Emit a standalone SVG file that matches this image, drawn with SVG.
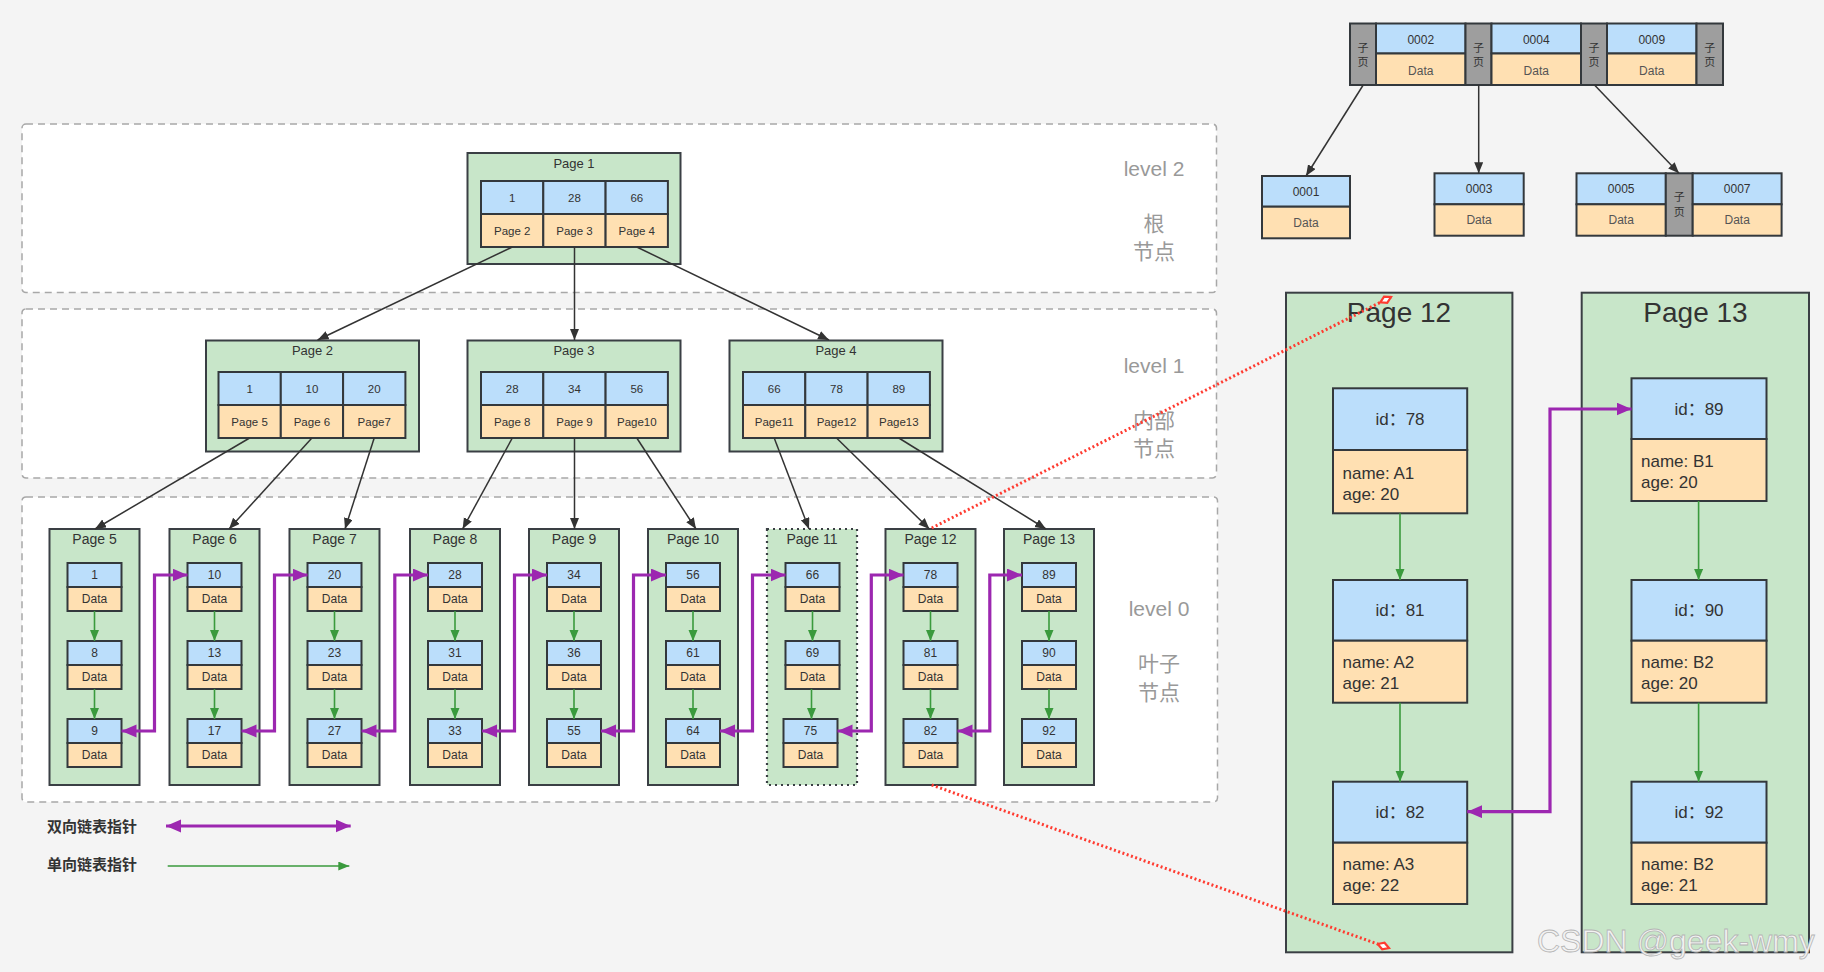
<svg xmlns="http://www.w3.org/2000/svg" width="1824" height="972" viewBox="0 0 1824 972">
<style>
text{font-family:"Liberation Sans","Noto Sans CJK SC",sans-serif;fill:#333;text-anchor:middle}
.lvl{fill:#fff;stroke:#a8a8a8;stroke-width:1.5;stroke-dasharray:7 5}
.pg{fill:#c8e6c9;stroke:#3a3f44;stroke-width:2}
.pgdot{fill:#c8e6c9;stroke:#3a3f44;stroke-width:2.2;stroke-dasharray:2 4}
.k{fill:#bbdefb;stroke:#33383c;stroke-width:2}
.d{fill:#ffe0b2;stroke:#33383c;stroke-width:2}
.g{fill:#9e9e9e;stroke:#33383c;stroke-width:2}
.pt{font-size:14px}
.ct{font-size:12px}
.nt{font-size:13px}
.nc{font-size:11.5px}
.tr{font-size:12px}
.trd{font-size:12px;fill:#555}
.zy{font-size:11px;fill:#333}
.lv{font-size:21px;fill:#999}
.lc{font-size:21px;fill:#999}
.bt{font-size:28px}
.rid{font-size:17px}
.rt{font-size:17px;text-anchor:start}
.lg{font-size:15px;font-weight:bold;text-anchor:start}
.blk{fill:none;stroke:#333;stroke-width:1.5}
.grn{fill:none;stroke:#3a9a3d;stroke-width:1.6}
.pur{fill:none;stroke:#9c27b0;stroke-width:3.2}
.red{fill:none;stroke:#ff3b30;stroke-width:3;stroke-dasharray:2 2.5}
</style>
<defs>
<marker id="ab" markerUnits="userSpaceOnUse" markerWidth="12" markerHeight="10" refX="11" refY="4.5" orient="auto"><path d="M0,0 L11,4.5 L0,9 z" fill="#333"/></marker>
<marker id="ag" markerUnits="userSpaceOnUse" markerWidth="12" markerHeight="10" refX="11" refY="4.5" orient="auto"><path d="M0,0 L11,4.5 L0,9 z" fill="#3a9a3d"/></marker>
<marker id="ap" markerUnits="userSpaceOnUse" markerWidth="16" markerHeight="14" refX="15" refY="6.5" orient="auto-start-reverse"><path d="M0,0 L15,6.5 L0,13 z" fill="#9c27b0"/></marker>
<marker id="ad" markerUnits="userSpaceOnUse" markerWidth="16" markerHeight="12" refX="13" refY="5" orient="auto"><path d="M1,5 L7,1.5 L13,5 L7,8.5 z" fill="#fff" stroke="#ff3b30" stroke-width="2.2"/></marker>
</defs>
<rect x="0" y="0" width="1824" height="972" fill="#f4f4f4"/>

<g id="levels">
<rect class="lvl" x="22" y="124" width="1194.5" height="168.5" rx="4"/>
<rect class="lvl" x="22" y="309" width="1194.5" height="169" rx="4"/>
<rect class="lvl" x="22" y="497" width="1195.5" height="305" rx="4"/>
<text class="lv" x="1154" y="175.5">level 2</text>
<text class="lc" x="1154" y="230.5">根</text>
<text class="lc" x="1154" y="259">节点</text>
<text class="lv" x="1154" y="372.5">level 1</text>
<text class="lc" x="1154" y="427.5">内部</text>
<text class="lc" x="1154" y="455.5">节点</text>
<text class="lv" x="1159" y="615.5">level 0</text>
<text class="lc" x="1159" y="670.5">叶子</text>
<text class="lc" x="1159" y="699.5">节点</text>
</g>

<g id="page1">
<rect class="pg" x="467.5" y="153" width="213" height="111"/>
<text class="nt" x="574" y="167.5">Page 1</text>
<rect class="k" x="481" y="181" width="62.3" height="33"/><rect class="k" x="543.3" y="181" width="62.3" height="33"/><rect class="k" x="605.6" y="181" width="62.3" height="33"/>
<rect class="d" x="481" y="214" width="62.3" height="33"/><rect class="d" x="543.3" y="214" width="62.3" height="33"/><rect class="d" x="605.6" y="214" width="62.3" height="33"/>
<text class="nc" x="512.2" y="201.5">1</text><text class="nc" x="574.5" y="201.5">28</text><text class="nc" x="636.8" y="201.5">66</text>
<text class="nc" x="512.2" y="234.5">Page 2</text><text class="nc" x="574.5" y="234.5">Page 3</text><text class="nc" x="636.8" y="234.5">Page 4</text>
</g>

<g id="page2">
<rect class="pg" x="206" y="340.5" width="213" height="111"/>
<text class="nt" x="312.5" y="355">Page 2</text>
<rect class="k" x="218.5" y="372" width="62.3" height="33"/><rect class="k" x="280.8" y="372" width="62.3" height="33"/><rect class="k" x="343.1" y="372" width="62.3" height="33"/>
<rect class="d" x="218.5" y="405" width="62.3" height="33"/><rect class="d" x="280.8" y="405" width="62.3" height="33"/><rect class="d" x="343.1" y="405" width="62.3" height="33"/>
<text class="nc" x="249.6" y="392.5">1</text><text class="nc" x="311.9" y="392.5">10</text><text class="nc" x="374.2" y="392.5">20</text>
<text class="nc" x="249.6" y="425.5">Page 5</text><text class="nc" x="311.9" y="425.5">Page 6</text><text class="nc" x="374.2" y="425.5">Page7</text>
</g>

<g id="page3">
<rect class="pg" x="467.5" y="340.5" width="213" height="111"/>
<text class="nt" x="574" y="355">Page 3</text>
<rect class="k" x="481" y="372" width="62.3" height="33"/><rect class="k" x="543.3" y="372" width="62.3" height="33"/><rect class="k" x="605.6" y="372" width="62.3" height="33"/>
<rect class="d" x="481" y="405" width="62.3" height="33"/><rect class="d" x="543.3" y="405" width="62.3" height="33"/><rect class="d" x="605.6" y="405" width="62.3" height="33"/>
<text class="nc" x="512.2" y="392.5">28</text><text class="nc" x="574.5" y="392.5">34</text><text class="nc" x="636.8" y="392.5">56</text>
<text class="nc" x="512.2" y="425.5">Page 8</text><text class="nc" x="574.5" y="425.5">Page 9</text><text class="nc" x="636.8" y="425.5">Page10</text>
</g>

<g id="page4">
<rect class="pg" x="729.5" y="340.5" width="213" height="111"/>
<text class="nt" x="836" y="355">Page 4</text>
<rect class="k" x="743" y="372" width="62.3" height="33"/><rect class="k" x="805.3" y="372" width="62.3" height="33"/><rect class="k" x="867.6" y="372" width="62.3" height="33"/>
<rect class="d" x="743" y="405" width="62.3" height="33"/><rect class="d" x="805.3" y="405" width="62.3" height="33"/><rect class="d" x="867.6" y="405" width="62.3" height="33"/>
<text class="nc" x="774.2" y="392.5">66</text><text class="nc" x="836.5" y="392.5">78</text><text class="nc" x="898.8" y="392.5">89</text>
<text class="nc" x="774.2" y="425.5">Page11</text><text class="nc" x="836.5" y="425.5">Page12</text><text class="nc" x="898.8" y="425.5">Page13</text>
</g>

<g id="page5">
<rect class="pg" x="49.5" y="529" width="90" height="256"/>
<text class="pt" x="94.5" y="544">Page 5</text>
<rect class="k" x="67.5" y="563" width="54" height="24"/><rect class="d" x="67.5" y="587" width="54" height="24"/>
<rect class="k" x="67.5" y="641" width="54" height="24"/><rect class="d" x="67.5" y="665" width="54" height="24"/>
<rect class="k" x="67.5" y="719" width="54" height="24"/><rect class="d" x="67.5" y="743" width="54" height="24"/>
<text class="ct" x="94.5" y="579.3">1</text><text class="ct" x="94.5" y="603.3">Data</text>
<text class="ct" x="94.5" y="657.3">8</text><text class="ct" x="94.5" y="681.3">Data</text>
<text class="ct" x="94.5" y="735.3">9</text><text class="ct" x="94.5" y="759.3">Data</text>
</g>

<g id="page6">
<rect class="pg" x="169.5" y="529" width="90" height="256"/>
<text class="pt" x="214.5" y="544">Page 6</text>
<rect class="k" x="187.5" y="563" width="54" height="24"/><rect class="d" x="187.5" y="587" width="54" height="24"/>
<rect class="k" x="187.5" y="641" width="54" height="24"/><rect class="d" x="187.5" y="665" width="54" height="24"/>
<rect class="k" x="187.5" y="719" width="54" height="24"/><rect class="d" x="187.5" y="743" width="54" height="24"/>
<text class="ct" x="214.5" y="579.3">10</text><text class="ct" x="214.5" y="603.3">Data</text>
<text class="ct" x="214.5" y="657.3">13</text><text class="ct" x="214.5" y="681.3">Data</text>
<text class="ct" x="214.5" y="735.3">17</text><text class="ct" x="214.5" y="759.3">Data</text>
</g>

<g id="page7">
<rect class="pg" x="289.5" y="529" width="90" height="256"/>
<text class="pt" x="334.5" y="544">Page 7</text>
<rect class="k" x="307.5" y="563" width="54" height="24"/><rect class="d" x="307.5" y="587" width="54" height="24"/>
<rect class="k" x="307.5" y="641" width="54" height="24"/><rect class="d" x="307.5" y="665" width="54" height="24"/>
<rect class="k" x="307.5" y="719" width="54" height="24"/><rect class="d" x="307.5" y="743" width="54" height="24"/>
<text class="ct" x="334.5" y="579.3">20</text><text class="ct" x="334.5" y="603.3">Data</text>
<text class="ct" x="334.5" y="657.3">23</text><text class="ct" x="334.5" y="681.3">Data</text>
<text class="ct" x="334.5" y="735.3">27</text><text class="ct" x="334.5" y="759.3">Data</text>
</g>

<g id="page8">
<rect class="pg" x="410" y="529" width="90" height="256"/>
<text class="pt" x="455" y="544">Page 8</text>
<rect class="k" x="428" y="563" width="54" height="24"/><rect class="d" x="428" y="587" width="54" height="24"/>
<rect class="k" x="428" y="641" width="54" height="24"/><rect class="d" x="428" y="665" width="54" height="24"/>
<rect class="k" x="428" y="719" width="54" height="24"/><rect class="d" x="428" y="743" width="54" height="24"/>
<text class="ct" x="455" y="579.3">28</text><text class="ct" x="455" y="603.3">Data</text>
<text class="ct" x="455" y="657.3">31</text><text class="ct" x="455" y="681.3">Data</text>
<text class="ct" x="455" y="735.3">33</text><text class="ct" x="455" y="759.3">Data</text>
</g>

<g id="page9">
<rect class="pg" x="529" y="529" width="90" height="256"/>
<text class="pt" x="574" y="544">Page 9</text>
<rect class="k" x="547" y="563" width="54" height="24"/><rect class="d" x="547" y="587" width="54" height="24"/>
<rect class="k" x="547" y="641" width="54" height="24"/><rect class="d" x="547" y="665" width="54" height="24"/>
<rect class="k" x="547" y="719" width="54" height="24"/><rect class="d" x="547" y="743" width="54" height="24"/>
<text class="ct" x="574" y="579.3">34</text><text class="ct" x="574" y="603.3">Data</text>
<text class="ct" x="574" y="657.3">36</text><text class="ct" x="574" y="681.3">Data</text>
<text class="ct" x="574" y="735.3">55</text><text class="ct" x="574" y="759.3">Data</text>
</g>

<g id="page10">
<rect class="pg" x="648" y="529" width="90" height="256"/>
<text class="pt" x="693" y="544">Page 10</text>
<rect class="k" x="666" y="563" width="54" height="24"/><rect class="d" x="666" y="587" width="54" height="24"/>
<rect class="k" x="666" y="641" width="54" height="24"/><rect class="d" x="666" y="665" width="54" height="24"/>
<rect class="k" x="666" y="719" width="54" height="24"/><rect class="d" x="666" y="743" width="54" height="24"/>
<text class="ct" x="693" y="579.3">56</text><text class="ct" x="693" y="603.3">Data</text>
<text class="ct" x="693" y="657.3">61</text><text class="ct" x="693" y="681.3">Data</text>
<text class="ct" x="693" y="735.3">64</text><text class="ct" x="693" y="759.3">Data</text>
</g>

<g id="page11">
<rect class="pgdot" x="767" y="529" width="90" height="256"/>
<text class="pt" x="812" y="544">Page 11</text>
<rect class="k" x="785.5" y="563" width="54" height="24"/><rect class="d" x="785.5" y="587" width="54" height="24"/>
<rect class="k" x="785.5" y="641" width="54" height="24"/><rect class="d" x="785.5" y="665" width="54" height="24"/>
<rect class="k" x="783.5" y="719" width="54" height="24"/><rect class="d" x="783.5" y="743" width="54" height="24"/>
<text class="ct" x="812.5" y="579.3">66</text><text class="ct" x="812.5" y="603.3">Data</text>
<text class="ct" x="812.5" y="657.3">69</text><text class="ct" x="812.5" y="681.3">Data</text>
<text class="ct" x="810.5" y="735.3">75</text><text class="ct" x="810.5" y="759.3">Data</text>
</g>

<g id="page12">
<rect class="pg" x="885.5" y="529" width="90" height="256"/>
<text class="pt" x="930.5" y="544">Page 12</text>
<rect class="k" x="903.5" y="563" width="54" height="24"/><rect class="d" x="903.5" y="587" width="54" height="24"/>
<rect class="k" x="903.5" y="641" width="54" height="24"/><rect class="d" x="903.5" y="665" width="54" height="24"/>
<rect class="k" x="903.5" y="719" width="54" height="24"/><rect class="d" x="903.5" y="743" width="54" height="24"/>
<text class="ct" x="930.5" y="579.3">78</text><text class="ct" x="930.5" y="603.3">Data</text>
<text class="ct" x="930.5" y="657.3">81</text><text class="ct" x="930.5" y="681.3">Data</text>
<text class="ct" x="930.5" y="735.3">82</text><text class="ct" x="930.5" y="759.3">Data</text>
</g>

<g id="page13">
<rect class="pg" x="1004" y="529" width="90" height="256"/>
<text class="pt" x="1049" y="544">Page 13</text>
<rect class="k" x="1022" y="563" width="54" height="24"/><rect class="d" x="1022" y="587" width="54" height="24"/>
<rect class="k" x="1022" y="641" width="54" height="24"/><rect class="d" x="1022" y="665" width="54" height="24"/>
<rect class="k" x="1022" y="719" width="54" height="24"/><rect class="d" x="1022" y="743" width="54" height="24"/>
<text class="ct" x="1049" y="579.3">89</text><text class="ct" x="1049" y="603.3">Data</text>
<text class="ct" x="1049" y="657.3">90</text><text class="ct" x="1049" y="681.3">Data</text>
<text class="ct" x="1049" y="735.3">92</text><text class="ct" x="1049" y="759.3">Data</text>
</g>

<g id="btree-root">
<rect class="g" x="1350" y="23.5" width="26" height="61.5"/>
<rect class="k" x="1376" y="23.5" width="89.5" height="30"/><rect class="d" x="1376" y="53.5" width="89.5" height="31.5"/>
<rect class="g" x="1465.5" y="23.5" width="26" height="61.5"/>
<rect class="k" x="1491.5" y="23.5" width="89.5" height="30"/><rect class="d" x="1491.5" y="53.5" width="89.5" height="31.5"/>
<rect class="g" x="1581" y="23.5" width="26" height="61.5"/>
<rect class="k" x="1607" y="23.5" width="89.5" height="30"/><rect class="d" x="1607" y="53.5" width="89.5" height="31.5"/>
<rect class="g" x="1696.5" y="23.5" width="26.5" height="61.5"/>
<text class="tr" x="1420.8" y="43.5">0002</text><text class="trd" x="1420.8" y="74.5">Data</text>
<text class="tr" x="1536.3" y="43.5">0004</text><text class="trd" x="1536.3" y="74.5">Data</text>
<text class="tr" x="1651.8" y="43.5">0009</text><text class="trd" x="1651.8" y="74.5">Data</text>
<text class="zy" x="1363" y="52">子</text><text class="zy" x="1363" y="65.5">页</text>
<text class="zy" x="1478.5" y="52">子</text><text class="zy" x="1478.5" y="65.5">页</text>
<text class="zy" x="1594" y="52">子</text><text class="zy" x="1594" y="65.5">页</text>
<text class="zy" x="1709.7" y="52">子</text><text class="zy" x="1709.7" y="65.5">页</text>
</g>

<g id="btree-0001">
<rect class="k" x="1262" y="176" width="88" height="30.7"/><rect class="d" x="1262" y="206.7" width="88" height="31.6"/>
<text class="tr" x="1306" y="195.5">0001</text><text class="trd" x="1306" y="226.7">Data</text>
</g>
<g id="btree-0003">
<rect class="k" x="1434.5" y="173.3" width="89.2" height="31"/><rect class="d" x="1434.5" y="204.3" width="89.2" height="31.4"/>
<text class="tr" x="1479.1" y="193">0003</text><text class="trd" x="1479.1" y="224.2">Data</text>
</g>
<g id="btree-0005-0007">
<rect class="k" x="1576.5" y="173.3" width="89.3" height="31"/><rect class="d" x="1576.5" y="204.3" width="89.3" height="31.4"/>
<rect class="g" x="1665.8" y="173.3" width="26.9" height="62.4"/>
<rect class="k" x="1692.7" y="173.3" width="88.9" height="31"/><rect class="d" x="1692.7" y="204.3" width="88.9" height="31.4"/>
<text class="tr" x="1621.2" y="193">0005</text><text class="trd" x="1621.2" y="224.2">Data</text>
<text class="tr" x="1737.2" y="193">0007</text><text class="trd" x="1737.2" y="224.2">Data</text>
<text class="zy" x="1679.3" y="200.5">子</text><text class="zy" x="1679.3" y="215.5">页</text>
</g>

<g id="detail-page12">
<rect class="pg" x="1286" y="292.7" width="226.4" height="659.6"/>
<text class="bt" x="1399" y="321.5">Page 12</text>
<rect class="k" x="1333" y="388.3" width="134.2" height="61.7"/><rect class="d" x="1333" y="450" width="134.2" height="63.3"/>
<text class="rid" x="1400" y="425">id：78</text>
<text class="rt" x="1342.5" y="478.7">name: A1</text><text class="rt" x="1342.5" y="499.5">age: 20</text>
<rect class="k" x="1333" y="580" width="134.2" height="60.7"/><rect class="d" x="1333" y="640.7" width="134.2" height="62"/>
<text class="rid" x="1400" y="616.3">id：81</text>
<text class="rt" x="1342.5" y="668.3">name: A2</text><text class="rt" x="1342.5" y="689.3">age: 21</text>
<rect class="k" x="1333" y="781.7" width="134.2" height="61"/><rect class="d" x="1333" y="842.7" width="134.2" height="61.3"/>
<text class="rid" x="1400" y="818">id：82</text>
<text class="rt" x="1342.5" y="870.3">name: A3</text><text class="rt" x="1342.5" y="891">age: 22</text>
</g>

<g id="detail-page13">
<rect class="pg" x="1581.7" y="292.7" width="227.3" height="659.6"/>
<text class="bt" x="1695.5" y="321.5">Page 13</text>
<rect class="k" x="1631.5" y="378.3" width="135" height="60.7"/><rect class="d" x="1631.5" y="439" width="135" height="62"/>
<text class="rid" x="1699" y="414.6">id：89</text>
<text class="rt" x="1641" y="466.7">name: B1</text><text class="rt" x="1641" y="487.7">age: 20</text>
<rect class="k" x="1631.5" y="580" width="135" height="60.7"/><rect class="d" x="1631.5" y="640.7" width="135" height="62"/>
<text class="rid" x="1699" y="616.3">id：90</text>
<text class="rt" x="1641" y="668.3">name: B2</text><text class="rt" x="1641" y="689.3">age: 20</text>
<rect class="k" x="1631.5" y="781.7" width="135" height="61"/><rect class="d" x="1631.5" y="842.7" width="135" height="61.3"/>
<text class="rid" x="1699" y="818">id：92</text>
<text class="rt" x="1641" y="870.3">name: B2</text><text class="rt" x="1641" y="891">age: 21</text>
</g>

<g id="connectors">
<path class="blk" marker-end="url(#ab)" d="M512.3,247 L317.6,340"/>
<path class="blk" marker-end="url(#ab)" d="M574.5,247 L574.5,340"/>
<path class="blk" marker-end="url(#ab)" d="M636.8,247 L829,340"/>
<path class="blk" marker-end="url(#ab)" d="M249.6,438 L95,529"/>
<path class="blk" marker-end="url(#ab)" d="M311.9,438 L229,529"/>
<path class="blk" marker-end="url(#ab)" d="M374.2,438 L345,529"/>
<path class="blk" marker-end="url(#ab)" d="M512.3,438 L462.6,529"/>
<path class="blk" marker-end="url(#ab)" d="M574.5,438 L574.5,529"/>
<path class="blk" marker-end="url(#ab)" d="M636.8,438 L696,529"/>
<path class="blk" marker-end="url(#ab)" d="M774.2,438 L809,529"/>
<path class="blk" marker-end="url(#ab)" d="M836.5,438 L929.4,529"/>
<path class="blk" marker-end="url(#ab)" d="M898.8,438 L1046,529"/>

<path class="grn" marker-end="url(#ag)" d="M94.5,611 V641"/><path class="grn" marker-end="url(#ag)" d="M94.5,689 V719"/>
<path class="grn" marker-end="url(#ag)" d="M214.5,611 V641"/><path class="grn" marker-end="url(#ag)" d="M214.5,689 V719"/>
<path class="grn" marker-end="url(#ag)" d="M334.5,611 V641"/><path class="grn" marker-end="url(#ag)" d="M334.5,689 V719"/>
<path class="grn" marker-end="url(#ag)" d="M455,611 V641"/><path class="grn" marker-end="url(#ag)" d="M455,689 V719"/>
<path class="grn" marker-end="url(#ag)" d="M574,611 V641"/><path class="grn" marker-end="url(#ag)" d="M574,689 V719"/>
<path class="grn" marker-end="url(#ag)" d="M693,611 V641"/><path class="grn" marker-end="url(#ag)" d="M693,689 V719"/>
<path class="grn" marker-end="url(#ag)" d="M812.5,611 V641"/><path class="grn" marker-end="url(#ag)" d="M811.5,689 V719"/>
<path class="grn" marker-end="url(#ag)" d="M930.5,611 V641"/><path class="grn" marker-end="url(#ag)" d="M930.5,689 V719"/>
<path class="grn" marker-end="url(#ag)" d="M1049,611 V641"/><path class="grn" marker-end="url(#ag)" d="M1049,689 V719"/>

<path class="pur" marker-start="url(#ap)" marker-end="url(#ap)" d="M121.5,731 H154.5 V575 H187.5"/>
<path class="pur" marker-start="url(#ap)" marker-end="url(#ap)" d="M241.5,731 H274.5 V575 H307.5"/>
<path class="pur" marker-start="url(#ap)" marker-end="url(#ap)" d="M361.5,731 H394.8 V575 H428"/>
<path class="pur" marker-start="url(#ap)" marker-end="url(#ap)" d="M482,731 H514.5 V575 H547"/>
<path class="pur" marker-start="url(#ap)" marker-end="url(#ap)" d="M601,731 H633.5 V575 H666"/>
<path class="pur" marker-start="url(#ap)" marker-end="url(#ap)" d="M720,731 H752.5 V575 H785.5"/>
<path class="pur" marker-start="url(#ap)" marker-end="url(#ap)" d="M837.5,731 H871.3 V575 H903.5"/>
<path class="pur" marker-start="url(#ap)" marker-end="url(#ap)" d="M957.5,731 H989.8 V575 H1022"/>

<path class="blk" marker-end="url(#ab)" d="M1363.2,85 L1306,176"/>
<path class="blk" marker-end="url(#ab)" d="M1478.7,85 L1478.7,173.3"/>
<path class="blk" marker-end="url(#ab)" d="M1594.5,85 L1679,173.3"/>

<path class="grn" marker-end="url(#ag)" d="M1400,513.3 V580"/>
<path class="grn" marker-end="url(#ag)" d="M1400,702.7 V781.7"/>
<path class="grn" marker-end="url(#ag)" d="M1698.6,501 V580"/>
<path class="grn" marker-end="url(#ag)" d="M1698.6,702.7 V781.7"/>
<path class="pur" marker-start="url(#ap)" marker-end="url(#ap)" d="M1467.2,811.7 H1550 V409 H1631.5"/>

<path class="red" marker-end="url(#ad)" d="M931.7,528 L1391,297"/>
<path class="red" marker-end="url(#ad)" d="M931.7,785 L1389,948"/>
</g>

<g id="legend">
<text class="lg" x="47" y="831.5">双向链表指针</text>
<path class="pur" marker-start="url(#ap)" marker-end="url(#ap)" d="M166,826 H350.7"/>
<text class="lg" x="47" y="869.5">单向链表指针</text>
<path class="grn" marker-end="url(#ag)" d="M167.7,866 H349.3"/>
</g>

<text x="1537" y="952" style="font-size:32px;text-anchor:start;fill:#f2f2f2;stroke:#b5b5b5;stroke-width:0.8">CSDN @geek-wmy</text>
</svg>
